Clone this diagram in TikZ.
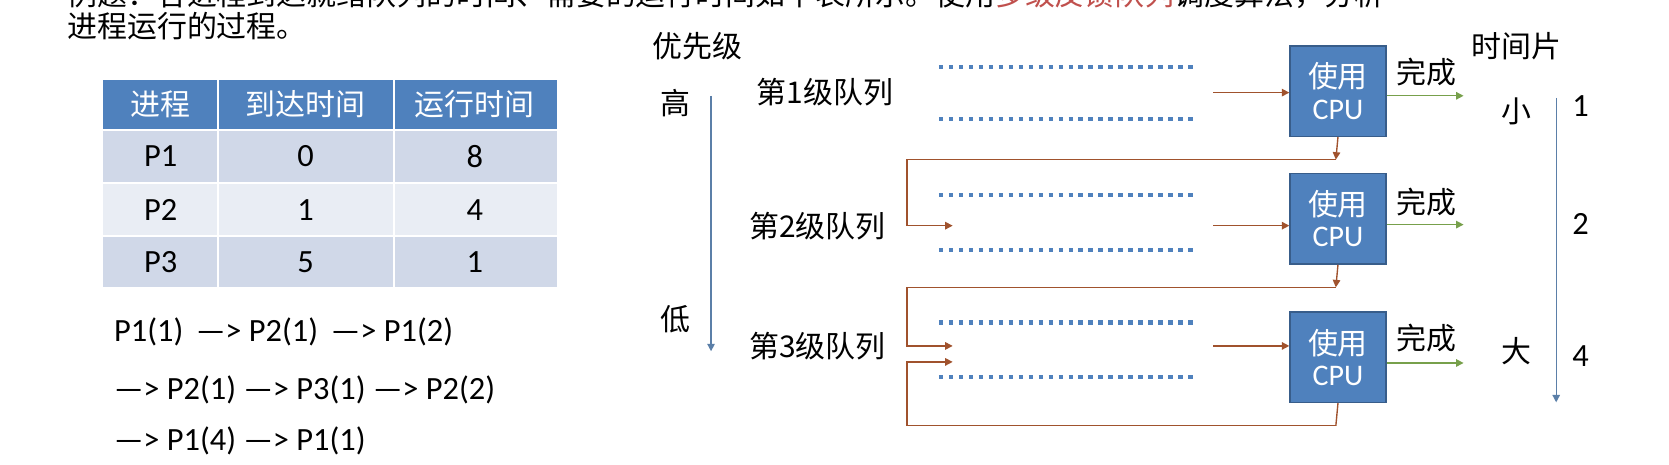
\documentclass[tikz,border=0pt]{standalone}
\usepackage{fontspec}
\setmainfont{Carlito}
\newfontfamily\cjk{Noto Sans CJK SC}
\usepackage{xcolor}
\usetikzlibrary{calc,arrows.meta}
\definecolor{hdblue}{HTML}{4F81BD}
\definecolor{rowa}{HTML}{D0D8E8}
\definecolor{rowb}{HTML}{E9EDF4}
\definecolor{cpufill}{HTML}{4F81BD}
\definecolor{cpuline}{HTML}{385D8A}
\definecolor{fbrown}{HTML}{A0522D}
\definecolor{dgreen}{HTML}{77A04B}
\definecolor{pblue}{HTML}{5B7FA8}
\definecolor{dred}{HTML}{C0504D}
\begin{document}
\begin{tikzpicture}[x=0.03cm,y=-0.03cm,
  txt/.style={font=\cjk\fontsize{24}{28}\selectfont,inner sep=0pt},
  lat/.style={font=\fontsize{26}{30}\selectfont,inner sep=0pt},
  cpubox/.style={draw=cpuline,fill=cpufill,line width=1.2pt,minimum width=90*0.03cm,minimum height=85*0.03cm,
    text=white,align=center,font=\fontsize{24}{25}\selectfont,inner sep=0pt},
  qline/.style={draw=hdblue,line width=3.6pt,dash pattern=on 3.6pt off 4.4pt},
  fb/.style={draw=fbrown,line width=1.1pt,-{Triangle[length=6pt,width=6pt]}},
  done/.style={draw=dgreen,line width=1.1pt,-{Triangle[length=6pt,width=6pt]}},
  prio/.style={draw=pblue,line width=1.1pt,-{Triangle[length=6pt,width=6pt]}}]
\useasboundingbox (0,0) rectangle (1568,436);
\begin{scope}
\clip (0,0) rectangle (1568,436);
\node[txt,anchor=west] (intro) at (63,-5) {例题：各进程到达就绪队列的时间、需要的运行时间如下表所示。使用\textcolor{dred}{多级反馈队列}调度算法，分析};
\end{scope}
\node[txt,anchor=west] (intro2) at (63,25) {进程运行的过程。};
% table
\fill[hdblue] (97,75) rectangle (523,122);
\fill[rowa] (97,122) rectangle (523,172);
\fill[rowb] (97,172) rectangle (523,222);
\fill[rowa] (97,222) rectangle (523,270);
\draw[white,line width=1.5pt] (97,122)--(523,122) (97,172)--(523,172) (97,222)--(523,222)
  (205,75)--(205,270) (370,75)--(370,270);
\node[txt,text=white] (h1) at (151,98) {进程};
\node[txt,text=white] (h2) at (287,98) {到达时间};
\node[txt,text=white] (h3) at (446,98) {运行时间};
\foreach \p/\a/\r/\y in {P1/0/8/147,P2/1/4/197,P3/5/1/246}{
  \node[lat] (p\p) at (151,\y) {\p};
  \node[lat] at (287,\y) {\a};
  \node[lat] at (446,\y) {\r};
}
\node[lat,anchor=west] (seq1) at (107,312) {P1(1) \,—> P2(1) \,—> P1(2)};
\node[lat,anchor=west] (seq2) at (107,366) {—> P2(1) —> P3(1) —> P2(2)};
\node[lat,anchor=west] (seq3) at (107,414) {—> P1(4) —> P1(1)};
% priority axis
\node[txt] (prio) at (655,43) {优先级};
\node[txt] (hi) at (635,97) {高};
\node[txt] (lo) at (635,300) {低};
\coordinate (pa) at (668,90); \coordinate (pb) at (668,330);
\draw[prio] (pa) -- (pb);
% queues
\node[txt] (q1) at (775,87) {第1级队列};
\node[txt] (q2) at (768,212) {第2级队列};
\node[txt] (q3) at (768,325) {第3级队列};
\foreach \y in {63,112,183,235,303,354}
  \draw[qline] (882,\y) -- (1122,\y);
% cpus
\node[cpubox] (c1) at (1257,85.5) {\cjk 使用\\CPU};
\node[cpubox] (c2) at (1257,205.5) {\cjk 使用\\CPU};
\node[cpubox] (c3) at (1257,335.5) {\cjk 使用\\CPU};
\foreach \i/\y in {1/87,2/212,3/325}{
  \coordinate (in\i) at (1140,\y);
  \draw[fb] (in\i) -- (in\i -| c\i.west);
}
\foreach \i/\y/\t in {1/90/68,2/211/190,3/341/318}{
  \coordinate (out\i) at (1375,\y);
  \draw[done] (out\i -| c\i.east) -- (out\i);
  \node[txt] (ok\i) at (1340,\t) {完成};
}
% feedback
\coordinate (f1) at (1255,150); \coordinate (t1) at (895,212);
\coordinate (f2) at (1255,270); \coordinate (t2) at (895,325);
\coordinate (f3) at (1255,400); \coordinate (t3) at (895,340);
\draw[fb] (c1.south) -- (f1);
\draw[fb] (f1) -- (852,150) |- (t1);
\draw[fb] (c2.south) -- (f2);
\draw[fb] (f2) -- (852,270) |- (t2);
\draw[draw=fbrown,line width=1.1pt] (c3.south) -- (f3);
\draw[fb] (f3) -- (852,400) |- (t3);
% time slice
\node[txt] (slice) at (1425,43) {时间片};
\node[txt] (sm) at (1425,105) {小};
\node[txt] (bg) at (1425,330) {大};
\coordinate (sa) at (1462,92); \coordinate (sb) at (1462,378);
\draw[prio] (sa) -- (sb);
\node[lat] (n1) at (1485,100) {1};
\node[lat] (n2) at (1485,210) {2};
\node[lat] (n4) at (1485,335) {4};
\end{tikzpicture}
\end{document}
